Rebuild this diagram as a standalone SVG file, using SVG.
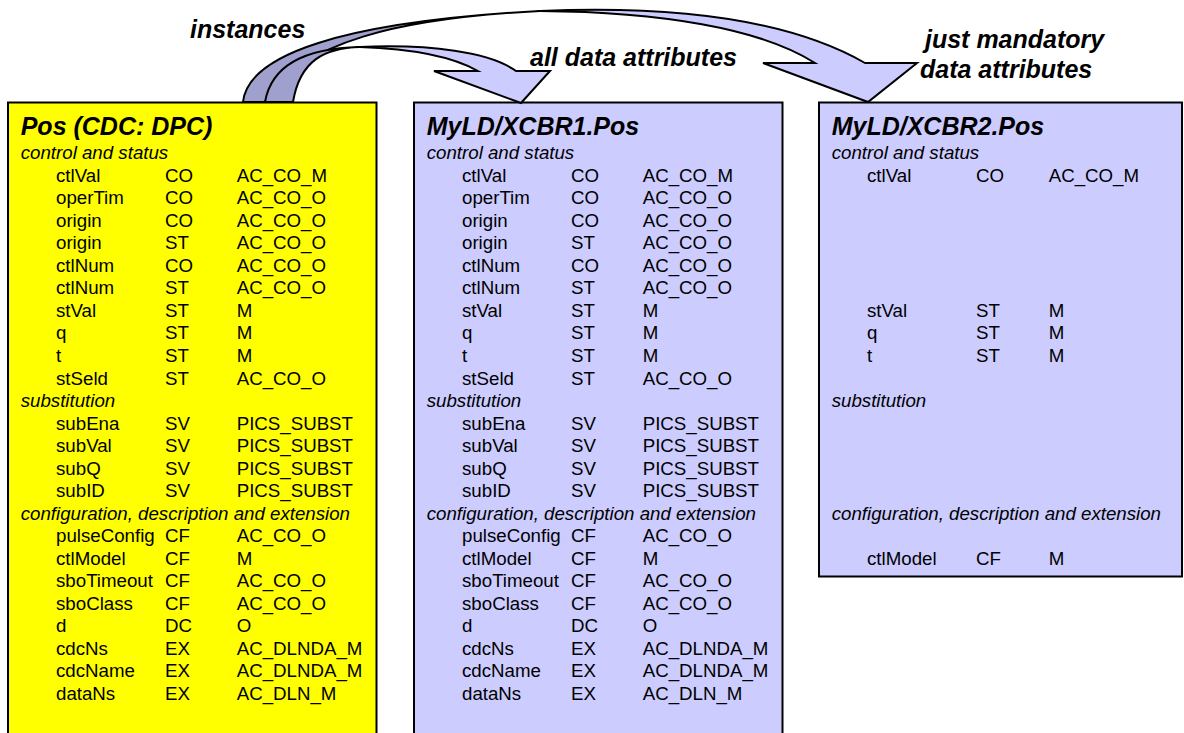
<svg xmlns="http://www.w3.org/2000/svg" width="1184" height="733" viewBox="0 0 1184 733">
<style>
.box{stroke:#000;stroke-width:2}
.y{fill:#FFFF00}
.l{fill:#CCCCFF}
.t{font-family:"Liberation Sans",Arial,sans-serif;font-size:25px;font-weight:bold;font-style:italic;fill:#000}
.s{font-family:"Liberation Sans",Arial,sans-serif;font-size:18.7px;font-style:italic;fill:#000}
.r{font-family:"Liberation Sans",Arial,sans-serif;font-size:18.7px;fill:#000}
.lab{font-family:"Liberation Sans",Arial,sans-serif;font-size:25px;font-weight:bold;font-style:italic;fill:#000}
.dk{fill:#A0A0CE;stroke:#000;stroke-width:2;stroke-linejoin:round}
.lt{fill:#CCCCFF;stroke:#000;stroke-width:2;stroke-linejoin:miter}
</style>
<rect width="1184" height="733" fill="#fff"/>

<g id="node-pos">
<rect class="box y" x="8" y="102.5" width="368.5" height="650"/>
<text class="t" x="20.7" y="135">Pos (CDC: DPC)</text>
<text class="s" x="20.7" y="159.2">control and status</text>
<text class="r" y="181.7"><tspan x="56">ctlVal</tspan><tspan x="165">CO</tspan><tspan x="236.7">AC_CO_M</tspan></text>
<text class="r" y="204.2"><tspan x="56">operTim</tspan><tspan x="165">CO</tspan><tspan x="236.7">AC_CO_O</tspan></text>
<text class="r" y="226.8"><tspan x="56">origin</tspan><tspan x="165">CO</tspan><tspan x="236.7">AC_CO_O</tspan></text>
<text class="r" y="249.3"><tspan x="56">origin</tspan><tspan x="165">ST</tspan><tspan x="236.7">AC_CO_O</tspan></text>
<text class="r" y="271.8"><tspan x="56">ctlNum</tspan><tspan x="165">CO</tspan><tspan x="236.7">AC_CO_O</tspan></text>
<text class="r" y="294.4"><tspan x="56">ctlNum</tspan><tspan x="165">ST</tspan><tspan x="236.7">AC_CO_O</tspan></text>
<text class="r" y="316.9"><tspan x="56">stVal</tspan><tspan x="165">ST</tspan><tspan x="236.7">M</tspan></text>
<text class="r" y="339.4"><tspan x="56">q</tspan><tspan x="165">ST</tspan><tspan x="236.7">M</tspan></text>
<text class="r" y="361.9"><tspan x="56">t</tspan><tspan x="165">ST</tspan><tspan x="236.7">M</tspan></text>
<text class="r" y="384.5"><tspan x="56">stSeld</tspan><tspan x="165">ST</tspan><tspan x="236.7">AC_CO_O</tspan></text>
<text class="s" x="20.7" y="407">substitution</text>
<text class="r" y="429.5"><tspan x="56">subEna</tspan><tspan x="165">SV</tspan><tspan x="236.7">PICS_SUBST</tspan></text>
<text class="r" y="452.1"><tspan x="56">subVal</tspan><tspan x="165">SV</tspan><tspan x="236.7">PICS_SUBST</tspan></text>
<text class="r" y="474.6"><tspan x="56">subQ</tspan><tspan x="165">SV</tspan><tspan x="236.7">PICS_SUBST</tspan></text>
<text class="r" y="497.1"><tspan x="56">subID</tspan><tspan x="165">SV</tspan><tspan x="236.7">PICS_SUBST</tspan></text>
<text class="s" x="20.7" y="519.7">configuration, description and extension</text>
<text class="r" y="542.2"><tspan x="56">pulseConfig</tspan><tspan x="165">CF</tspan><tspan x="236.7">AC_CO_O</tspan></text>
<text class="r" y="564.7"><tspan x="56">ctlModel</tspan><tspan x="165">CF</tspan><tspan x="236.7">M</tspan></text>
<text class="r" y="587.2"><tspan x="56">sboTimeout</tspan><tspan x="165">CF</tspan><tspan x="236.7">AC_CO_O</tspan></text>
<text class="r" y="609.8"><tspan x="56">sboClass</tspan><tspan x="165">CF</tspan><tspan x="236.7">AC_CO_O</tspan></text>
<text class="r" y="632.3"><tspan x="56">d</tspan><tspan x="165">DC</tspan><tspan x="236.7">O</tspan></text>
<text class="r" y="654.8"><tspan x="56">cdcNs</tspan><tspan x="165">EX</tspan><tspan x="236.7">AC_DLNDA_M</tspan></text>
<text class="r" y="677.4"><tspan x="56">cdcName</tspan><tspan x="165">EX</tspan><tspan x="236.7">AC_DLNDA_M</tspan></text>
<text class="r" y="699.9"><tspan x="56">dataNs</tspan><tspan x="165">EX</tspan><tspan x="236.7">AC_DLN_M</tspan></text>
</g>

<g id="node-xcbr1" transform="translate(406,0)">
<rect class="box l" x="8" y="102.5" width="368.5" height="650"/>
<text class="t" x="20.7" y="135">MyLD/XCBR1.Pos</text>
<text class="s" x="20.7" y="159.2">control and status</text>
<text class="r" y="181.7"><tspan x="56">ctlVal</tspan><tspan x="165">CO</tspan><tspan x="236.7">AC_CO_M</tspan></text>
<text class="r" y="204.2"><tspan x="56">operTim</tspan><tspan x="165">CO</tspan><tspan x="236.7">AC_CO_O</tspan></text>
<text class="r" y="226.8"><tspan x="56">origin</tspan><tspan x="165">CO</tspan><tspan x="236.7">AC_CO_O</tspan></text>
<text class="r" y="249.3"><tspan x="56">origin</tspan><tspan x="165">ST</tspan><tspan x="236.7">AC_CO_O</tspan></text>
<text class="r" y="271.8"><tspan x="56">ctlNum</tspan><tspan x="165">CO</tspan><tspan x="236.7">AC_CO_O</tspan></text>
<text class="r" y="294.4"><tspan x="56">ctlNum</tspan><tspan x="165">ST</tspan><tspan x="236.7">AC_CO_O</tspan></text>
<text class="r" y="316.9"><tspan x="56">stVal</tspan><tspan x="165">ST</tspan><tspan x="236.7">M</tspan></text>
<text class="r" y="339.4"><tspan x="56">q</tspan><tspan x="165">ST</tspan><tspan x="236.7">M</tspan></text>
<text class="r" y="361.9"><tspan x="56">t</tspan><tspan x="165">ST</tspan><tspan x="236.7">M</tspan></text>
<text class="r" y="384.5"><tspan x="56">stSeld</tspan><tspan x="165">ST</tspan><tspan x="236.7">AC_CO_O</tspan></text>
<text class="s" x="20.7" y="407">substitution</text>
<text class="r" y="429.5"><tspan x="56">subEna</tspan><tspan x="165">SV</tspan><tspan x="236.7">PICS_SUBST</tspan></text>
<text class="r" y="452.1"><tspan x="56">subVal</tspan><tspan x="165">SV</tspan><tspan x="236.7">PICS_SUBST</tspan></text>
<text class="r" y="474.6"><tspan x="56">subQ</tspan><tspan x="165">SV</tspan><tspan x="236.7">PICS_SUBST</tspan></text>
<text class="r" y="497.1"><tspan x="56">subID</tspan><tspan x="165">SV</tspan><tspan x="236.7">PICS_SUBST</tspan></text>
<text class="s" x="20.7" y="519.7">configuration, description and extension</text>
<text class="r" y="542.2"><tspan x="56">pulseConfig</tspan><tspan x="165">CF</tspan><tspan x="236.7">AC_CO_O</tspan></text>
<text class="r" y="564.7"><tspan x="56">ctlModel</tspan><tspan x="165">CF</tspan><tspan x="236.7">M</tspan></text>
<text class="r" y="587.2"><tspan x="56">sboTimeout</tspan><tspan x="165">CF</tspan><tspan x="236.7">AC_CO_O</tspan></text>
<text class="r" y="609.8"><tspan x="56">sboClass</tspan><tspan x="165">CF</tspan><tspan x="236.7">AC_CO_O</tspan></text>
<text class="r" y="632.3"><tspan x="56">d</tspan><tspan x="165">DC</tspan><tspan x="236.7">O</tspan></text>
<text class="r" y="654.8"><tspan x="56">cdcNs</tspan><tspan x="165">EX</tspan><tspan x="236.7">AC_DLNDA_M</tspan></text>
<text class="r" y="677.4"><tspan x="56">cdcName</tspan><tspan x="165">EX</tspan><tspan x="236.7">AC_DLNDA_M</tspan></text>
<text class="r" y="699.9"><tspan x="56">dataNs</tspan><tspan x="165">EX</tspan><tspan x="236.7">AC_DLN_M</tspan></text>
</g>

<g id="node-xcbr2" transform="translate(811,0)">
<rect class="box l" x="8" y="102.5" width="363" height="474"/>
<text class="t" x="20.7" y="135">MyLD/XCBR2.Pos</text>
<text class="s" x="20.7" y="159.2">control and status</text>
<text class="r" y="181.7"><tspan x="56">ctlVal</tspan><tspan x="165">CO</tspan><tspan x="237.7">AC_CO_M</tspan></text>
<text class="r" y="316.9"><tspan x="56">stVal</tspan><tspan x="165">ST</tspan><tspan x="237.7">M</tspan></text>
<text class="r" y="339.4"><tspan x="56">q</tspan><tspan x="165">ST</tspan><tspan x="237.7">M</tspan></text>
<text class="r" y="361.9"><tspan x="56">t</tspan><tspan x="165">ST</tspan><tspan x="237.7">M</tspan></text>
<text class="s" x="20.7" y="407">substitution</text>
<text class="s" x="20.7" y="519.7">configuration, description and extension</text>
<text class="r" y="564.7"><tspan x="56">ctlModel</tspan><tspan x="165">CF</tspan><tspan x="237.7">M</tspan></text>
</g>

<g id="connectors">
<path class="dk" d="M243,102 C248,55 340,22 540,11 C400,18 300,42 265,102 Z"/>
<path class="lt" d="M540,11 C680,5 790,20 865,63 L917,63 L868,102 L763,63 L815,63 C760,28 660,12 540,11 Z"/>
<path class="dk" d="M265,102 C272,62 310,48 360,47 C325,48 300,60 293,102 Z"/>
<path class="lt" d="M360,47 C430,44 490,52 516,71 L550,71 L521,103 L434,71 L478,71 C455,58 420,49 360,47 Z"/>
</g>

<g id="labels">
<text class="lab" x="190" y="38">instances</text>
<text class="lab" x="530" y="66">all data attributes</text>
<text class="lab" x="925" y="48">just mandatory</text>
<text class="lab" x="920" y="78">data attributes</text>
</g>
</svg>
